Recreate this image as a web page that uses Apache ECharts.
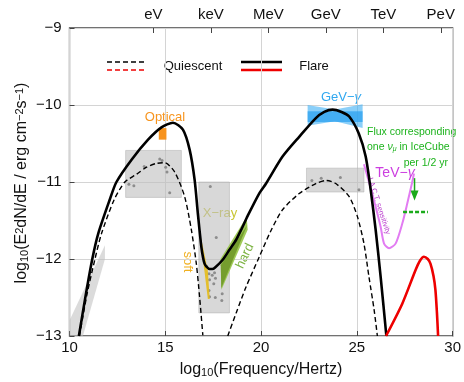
<!DOCTYPE html>
<html>
<head>
<meta charset="utf-8">
<script src="https://cdn.jsdelivr.net/npm/echarts@6/dist/echarts.min.js"></script>
<style>html,body{margin:0;padding:0;background:#fff}#c{width:464px;height:382px}</style>
</head>
<body>
<div id="c"></div>
<script>
// ---- SED model curves: [log10(nu/Hz), log10(nuFnu)] ----
const flareCurve = [[10.49,-13.0],[10.86,-12.45],[11.19,-12.0],[11.5,-11.67],[12.1,-11.23],[12.45,-11.0],
  [13.24,-10.71],[14.1,-10.45],[14.8,-10.29],[15.4,-10.23],[15.92,-10.32],[16.27,-10.58],[16.53,-10.97],
  [16.7,-11.41],[16.88,-11.84],[16.97,-11.98],[17.05,-12.06],[17.15,-12.1],[17.31,-12.13],[17.45,-12.13],
  [17.6,-12.11],[18.0,-12.01],[18.35,-11.88],[18.7,-11.75],[19.0,-11.6],[19.3,-11.44],[19.9,-11.15],
  [20.26,-11.02],[21.12,-10.67],[22.0,-10.41],[22.86,-10.17],[23.3,-10.09],[23.73,-10.06],[24.2,-10.09],
  [24.6,-10.15],[25.1,-10.37],[25.46,-10.67],[25.72,-11.1],[25.98,-11.62],[26.24,-12.23],[26.54,-13.0]];
const quiescentSync = [[10.52,-13.0],[10.92,-12.45],[11.33,-12.0],[11.67,-11.67],[12.33,-11.23],[12.89,-11.0],
  [13.5,-10.9],[14.0,-10.81],[14.5,-10.76],[14.97,-10.75],[15.49,-10.87],[16.01,-11.19],[16.36,-11.62],
  [16.62,-12.06],[16.79,-12.49],[16.96,-12.99]];
const quiescentIC = [[18.26,-13.0],[18.7,-12.7],[19.22,-12.36],[19.91,-11.97],[20.5,-11.64],[21.12,-11.36],
  [21.99,-11.15],[22.86,-11.02],[23.4,-10.98],[23.9,-11.02],[24.6,-11.19],[25.03,-11.45],[25.37,-11.8],
  [25.63,-12.23],[25.9,-12.66],[26.07,-13.0]];
const flareHadronic = [[26.52,-13.0],[27.37,-12.58],[28.07,-12.14],[28.3,-12.02],[28.5,-11.97],[28.7,-12.0],
  [28.84,-12.06],[29.0,-12.22],[29.1,-12.4],[29.18,-12.7],[29.24,-13.0]];
const iactSensitivity = [[25.37,-10.77],[25.63,-11.0],[25.98,-11.32],[26.24,-11.58],[26.42,-11.8],[26.68,-11.86],
  [27.02,-11.8],[27.37,-11.54],[27.63,-11.28],[27.89,-11.0],[27.98,-10.89]];

// ---- observed data ----
const opticalPoints = [[13.1,-11.03],[13.36,-11.05],[13.9,-10.8],[14.71,-10.7],[14.83,-10.72],[15.02,-10.81],[15.09,-10.87],[15.23,-11.14]];
const xrayPoints = [[17.35,-11.06],[17.66,-11.72],[17.14,-12.09],[17.28,-12.19],[17.45,-12.21],[17.57,-12.18],[17.31,-12.27],
  [17.62,-12.25],[17.53,-12.32],[18.0,-12.24],[17.28,-12.41],[17.31,-12.49],[17.61,-12.5],[17.97,-12.45],[17.95,-12.54]];
const gevPoints = [[22.65,-10.98],[23.14,-10.95],[24.14,-10.94],[25.11,-11.1]];

// archival ranges (shaded regions)
const radioBand = [[10.0,-13.0],[10.0,-12.8],[11.85,-11.82],[11.85,-12.0],[10.7,-13.0]];
const opticalRange = [[12.93,-10.59],[15.84,-10.59],[15.84,-11.2],[12.93,-11.2]];
const xrayRange = [[16.75,-11.0],[18.35,-11.0],[18.35,-12.7],[16.75,-12.7]];
const gevRange = [[22.37,-10.82],[25.37,-10.82],[25.37,-11.13],[22.37,-11.13]];

// flare observations
const opticalFlare = [[14.66,-10.3],[15.06,-10.3],[15.06,-10.45],[14.66,-10.45]];
const softXray = [[16.84,-11.7],[16.98,-11.86],[17.22,-12.15],[17.32,-12.52],[17.22,-12.52],[17.04,-12.15],[16.88,-11.86]];
const hardXray = [[17.88,-12.0],[19.25,-11.45],[19.3,-11.62],[17.93,-12.4]];
const hardXrayCore = [[17.9,-12.08],[19.28,-11.56],[17.92,-12.38]];
const gevBowtie = [[22.43,-10.0],[23.85,-10.06],[25.3,-9.99],[25.3,-10.3],[23.85,-10.21],[22.43,-10.27]];
const gevCore = [[22.43,-10.08],[25.3,-10.08],[25.3,-10.22],[22.43,-10.22]];

// neutrino flux level and upper-limit arrow
const nuFluxLevel = [[27.41,-11.39],[28.71,-11.39]];
const nuArrow = [[28.01,-10.95],[28.01,-11.24]];

// axis ticks
const xTicks = [10, 15, 20, 25, 30];
const yTicks = [-13, -12, -11, -10, -9];
const energyLabels = ['eV', 'keV', 'MeV', 'GeV', 'TeV', 'PeV'];
const energyTickPos = [14.38, 17.38, 20.38, 23.38, 26.38, 29.38];

const FONT = '"Liberation Sans", Arial, sans-serif';
const chart = echarts.init(document.getElementById('c'), null, {renderer: 'canvas'});

function polygon(name, pts, fill, stroke, z) {
  return {
    type: 'custom', name, z, silent: true, clip: true,
    data: [pts[0]],
    renderItem: (params, api) => ({
      type: 'polygon',
      shape: {points: pts.map(p => api.coord(p))},
      style: {fill: fill, stroke: stroke || null, lineWidth: stroke ? 0.8 : 0}
    })
  };
}
function curve(name, pts, color, width, dash, z) {
  return {
    type: 'line', name, data: pts, smooth: 0.25, showSymbol: false, z: z || 5, silent: true,
    lineStyle: {color, width, type: dash || 'solid'}
  };
}

const txt = (x, y, text, color, size, extra) => Object.assign({
  type: 'text', x, y,
  style: Object.assign({text, fill: color, font: size + 'px ' + FONT, align: 'center', verticalAlign: 'middle'}, (extra && extra.style) || {})
}, extra ? {rotation: extra.rotation || 0} : {});

const option = {
  animation: false,
  grid: {left: 69.5, right: 10, top: 28, bottom: 46, show: true, borderColor: '#444', borderWidth: 1.3, backgroundColor: 'transparent'},
  xAxis: [{
    type: 'value', position: 'bottom', min: xTicks[0], max: xTicks[xTicks.length - 1], interval: 5,
    axisLine: {show: false},
    axisTick: {show: true, inside: true, length: 5, lineStyle: {color: '#444'}},
    axisLabel: {fontSize: 15, color: '#111', fontFamily: FONT, margin: 4},
    splitLine: {show: true, lineStyle: {color: '#d4d4d4', width: 1}}
  }, {
    type: 'value', position: 'top', min: xTicks[0], max: xTicks[xTicks.length - 1],
    axisLine: {show: false},
    axisTick: {show: true, inside: true, length: 5, lineStyle: {color: '#444'}, customValues: energyTickPos},
    axisLabel: {fontSize: 15, color: '#111', fontFamily: FONT, margin: 6, customValues: energyTickPos,
      formatter: v => { const i = energyTickPos.findIndex(p => Math.abs(p - v) < 0.01); return i >= 0 ? energyLabels[i] : ''; }},
    splitLine: {show: false}
  }],
  yAxis: [{
    type: 'value', min: yTicks[0], max: yTicks[yTicks.length - 1], interval: 1,
    axisLine: {show: false},
    axisTick: {show: true, inside: true, length: 5, lineStyle: {color: '#444'}},
    axisLabel: {fontSize: 15, color: '#111', fontFamily: FONT, margin: 8, formatter: v => '\u2212' + Math.abs(v)},
    splitLine: {show: true, lineStyle: {color: '#d4d4d4', width: 1}}
  }],
  series: [
    polygon('radio', radioBand, 'rgba(190,190,190,0.55)', null, 1),
    polygon('optical range', opticalRange, 'rgba(190,190,190,0.6)', 'rgba(170,170,170,0.6)', 1),
    polygon('x-ray range', xrayRange, 'rgba(190,190,190,0.6)', 'rgba(170,170,170,0.6)', 1),
    polygon('gev range', gevRange, 'rgba(190,190,190,0.6)', 'rgba(170,170,170,0.6)', 1),
    {type: 'scatter', data: opticalPoints.concat(xrayPoints, gevPoints), symbolSize: 3, z: 2, silent: true,
      itemStyle: {color: '#7a7a7a'}},
    polygon('optical flare', opticalFlare, '#f7931e', null, 3),
    polygon('soft x-ray', softXray, 'rgba(230,188,25,0.9)', null, 3),
    polygon('hard x-ray', hardXray, 'rgba(150,196,70,0.9)', null, 3),
    polygon('hard x-ray core', hardXrayCore, 'rgba(110,150,40,0.85)', null, 3),
    polygon('gev bowtie', gevBowtie, 'rgba(60,175,245,0.6)', null, 3),
    polygon('gev core', gevCore, 'rgba(40,160,240,0.7)', null, 3),
    curve('quiescent sync', quiescentSync, '#000', 1.4, [5, 3], 6),
    curve('quiescent ic', quiescentIC, '#000', 1.4, [5, 3], 6),
    curve('flare', flareCurve, '#000', 2.6, null, 7),
    curve('flare hadronic', flareHadronic, '#ee0000', 2.6, null, 7),
    curve('iact', iactSensitivity, '#e27cf2', 2, null, 4),
    {type: 'line', data: nuFluxLevel, showSymbol: false, silent: true, z: 5,
      lineStyle: {color: '#1aaa1a', width: 2.5, type: [4, 2]}},
    {type: 'custom', z: 5, silent: true, data: [nuArrow[0]],
      renderItem: (params, api) => {
        const a = api.coord(nuArrow[0]), b = api.coord(nuArrow[1]);
        return {type: 'group', children: [
          {type: 'line', shape: {x1: a[0], y1: a[1], x2: b[0], y2: b[1] - 6}, style: {stroke: '#1aaa1a', lineWidth: 1.5}},
          {type: 'polygon', shape: {points: [[b[0] - 4, b[1] - 10], [b[0] + 4, b[1] - 10], [b[0], b[1]]]}, style: {fill: '#1aaa1a'}}
        ]};
      }}
  ],
  graphic: [
    // legend
    {type: 'line', shape: {x1: 107, y1: 62, x2: 147, y2: 62}, style: {stroke: '#000', lineWidth: 1.4, lineDash: [5, 3]}},
    {type: 'line', shape: {x1: 107, y1: 70, x2: 147, y2: 70}, style: {stroke: '#ee0000', lineWidth: 1.4, lineDash: [5, 3]}},
    txt(193, 66.5, 'Quiescent', '#111', 13),
    {type: 'line', shape: {x1: 241, y1: 62, x2: 282, y2: 62}, style: {stroke: '#000', lineWidth: 2.6}},
    {type: 'line', shape: {x1: 241, y1: 70, x2: 282, y2: 70}, style: {stroke: '#ee0000', lineWidth: 2.6}},
    txt(314, 66.5, 'Flare', '#111', 13),
    // annotations
    txt(165, 117, 'Optical', '#f7941d', 13),
    {type: 'text', x: 341, y: 97, style: {text: 'GeV\u2212{g|\u03b3}', fill: '#30a8f0', font: '13px ' + FONT, align: 'center', verticalAlign: 'middle',
      rich: {g: {fontStyle: 'italic', fontSize: 13, fontFamily: FONT, fill: '#30a8f0'}}}},
    txt(220, 213, 'X\u2212ray', '#c9c635', 13),
    txt(188, 262, 'soft', '#f0b020', 13, {rotation: -Math.PI / 2}),
    txt(245, 256, 'hard', '#7cb342', 13, {rotation: 65 * Math.PI / 180}),
    {type: 'text', x: 395, y: 173, style: {text: 'TeV\u2212{g|\u03b3}', fill: '#cc3ee0', font: '14px ' + FONT, align: 'center', verticalAlign: 'middle',
      rich: {g: {fontStyle: 'italic', fontSize: 14, fontFamily: FONT, fill: '#cc3ee0'}}}},
    txt(379, 206, 'I.A.C.T. sensitivity', '#b83ccc', 7.5, {rotation: -72 * Math.PI / 180}),
    {type: 'text', x: 367, y: 132, style: {text: 'Flux corresponding', fill: '#1db31d', font: '10.5px ' + FONT, align: 'left', verticalAlign: 'middle'}},
    {type: 'text', x: 367, y: 147, style: {text: 'one {v|\u03bd}{s|\u03bc} in IceCube', fill: '#1db31d', font: '10.5px ' + FONT, align: 'left', verticalAlign: 'middle',
      rich: {v: {fontStyle: 'italic', fontSize: 10.5, fontFamily: FONT, fill: '#1db31d'}, s: {fontStyle: 'italic', fontSize: 7, fontFamily: FONT, fill: '#1db31d', verticalAlign: 'bottom', lineHeight: 8}}}},
    {type: 'text', x: 448, y: 163, style: {text: 'per 1/2 yr', fill: '#1db31d', font: '10.5px ' + FONT, align: 'right', verticalAlign: 'middle'}},
    // axis titles
    {type: 'text', x: 261, y: 370, style: {text: 'log{s|10}(Frequency/Hertz)', fill: '#111', font: '16px ' + FONT, align: 'center', verticalAlign: 'middle',
      rich: {s: {fontSize: 11, fontFamily: FONT, fill: '#111', verticalAlign: 'bottom', lineHeight: 12}}}},
    {type: 'text', x: 22, y: 183, rotation: Math.PI / 2, style: {text: 'log{s|10}(E{p|2}dN/dE / erg cm{p|\u22122}s{p|\u22121})', fill: '#111', font: '16px ' + FONT, align: 'center', verticalAlign: 'middle',
      rich: {s: {fontSize: 11, fontFamily: FONT, fill: '#111', verticalAlign: 'bottom', lineHeight: 12},
             p: {fontSize: 11, fontFamily: FONT, fill: '#111', verticalAlign: 'top', lineHeight: 12}}}}
  ]
};
chart.setOption(option);
</script>
</body>
</html>
